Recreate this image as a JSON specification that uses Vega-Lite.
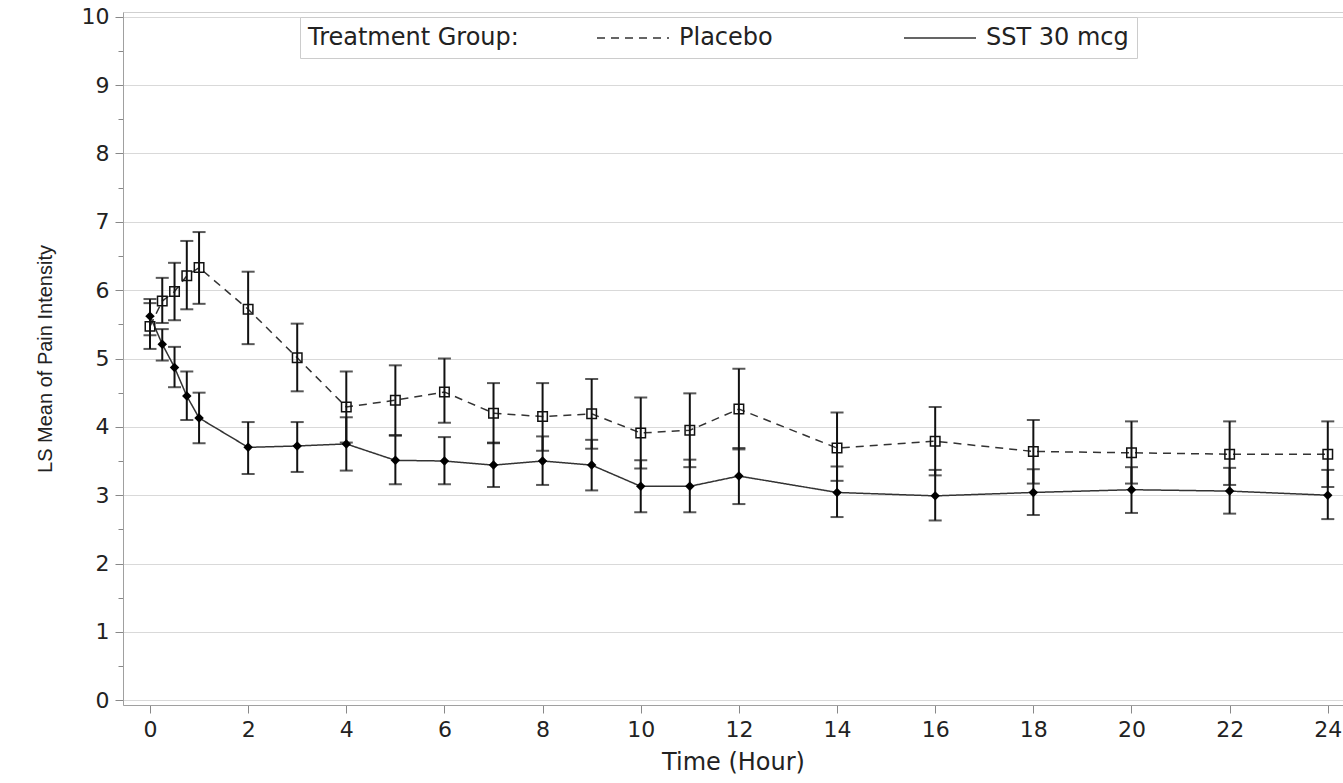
{
  "$schema": "https://vega.github.io/schema/vega-lite/v6.json",
  "autosize": {"type": "none"},
  "width": 1220,
  "height": 693,
  "padding": {"left": 123, "top": 12, "right": 0, "bottom": 78},
  "background": "white",
  "config": {
    "view": {"stroke": "#d0d0d0", "strokeWidth": 1},
    "font": "DejaVu Sans"
  },
  "data": {
    "values": [
      {"t": 0, "group": "Placebo", "mean": 5.47, "lo": 5.14, "hi": 5.81},
      {"t": 0.25, "group": "Placebo", "mean": 5.84, "lo": 5.52, "hi": 6.18},
      {"t": 0.5, "group": "Placebo", "mean": 5.98, "lo": 5.56, "hi": 6.40},
      {"t": 0.75, "group": "Placebo", "mean": 6.21, "lo": 5.72, "hi": 6.72},
      {"t": 1, "group": "Placebo", "mean": 6.33, "lo": 5.80, "hi": 6.85},
      {"t": 2, "group": "Placebo", "mean": 5.72, "lo": 5.21, "hi": 6.27},
      {"t": 3, "group": "Placebo", "mean": 5.01, "lo": 4.52, "hi": 5.51},
      {"t": 4, "group": "Placebo", "mean": 4.29, "lo": 3.77, "hi": 4.81},
      {"t": 5, "group": "Placebo", "mean": 4.39, "lo": 3.88, "hi": 4.90},
      {"t": 6, "group": "Placebo", "mean": 4.51, "lo": 4.06, "hi": 5.00},
      {"t": 7, "group": "Placebo", "mean": 4.20, "lo": 3.76, "hi": 4.64},
      {"t": 8, "group": "Placebo", "mean": 4.15, "lo": 3.65, "hi": 4.64},
      {"t": 9, "group": "Placebo", "mean": 4.19, "lo": 3.68, "hi": 4.70},
      {"t": 10, "group": "Placebo", "mean": 3.91, "lo": 3.39, "hi": 4.43},
      {"t": 11, "group": "Placebo", "mean": 3.95, "lo": 3.41, "hi": 4.49},
      {"t": 12, "group": "Placebo", "mean": 4.26, "lo": 3.67, "hi": 4.85},
      {"t": 14, "group": "Placebo", "mean": 3.69, "lo": 3.21, "hi": 4.21},
      {"t": 16, "group": "Placebo", "mean": 3.79, "lo": 3.29, "hi": 4.29},
      {"t": 18, "group": "Placebo", "mean": 3.64, "lo": 3.17, "hi": 4.10},
      {"t": 20, "group": "Placebo", "mean": 3.62, "lo": 3.17, "hi": 4.08},
      {"t": 22, "group": "Placebo", "mean": 3.60, "lo": 3.15, "hi": 4.08},
      {"t": 24, "group": "Placebo", "mean": 3.60, "lo": 3.12, "hi": 4.08},
      {"t": 0, "group": "SST 30 mcg", "mean": 5.62, "lo": 5.34, "hi": 5.87},
      {"t": 0.25, "group": "SST 30 mcg", "mean": 5.21, "lo": 4.97, "hi": 5.43},
      {"t": 0.5, "group": "SST 30 mcg", "mean": 4.87, "lo": 4.58, "hi": 5.17},
      {"t": 0.75, "group": "SST 30 mcg", "mean": 4.45, "lo": 4.10, "hi": 4.81},
      {"t": 1, "group": "SST 30 mcg", "mean": 4.13, "lo": 3.76, "hi": 4.50},
      {"t": 2, "group": "SST 30 mcg", "mean": 3.70, "lo": 3.31, "hi": 4.07},
      {"t": 3, "group": "SST 30 mcg", "mean": 3.72, "lo": 3.34, "hi": 4.07},
      {"t": 4, "group": "SST 30 mcg", "mean": 3.75, "lo": 3.36, "hi": 4.14},
      {"t": 5, "group": "SST 30 mcg", "mean": 3.51, "lo": 3.16, "hi": 3.87},
      {"t": 6, "group": "SST 30 mcg", "mean": 3.50, "lo": 3.16, "hi": 3.85},
      {"t": 7, "group": "SST 30 mcg", "mean": 3.44, "lo": 3.12, "hi": 3.77},
      {"t": 8, "group": "SST 30 mcg", "mean": 3.50, "lo": 3.15, "hi": 3.86},
      {"t": 9, "group": "SST 30 mcg", "mean": 3.44, "lo": 3.07, "hi": 3.81},
      {"t": 10, "group": "SST 30 mcg", "mean": 3.13, "lo": 2.75, "hi": 3.51},
      {"t": 11, "group": "SST 30 mcg", "mean": 3.13, "lo": 2.75, "hi": 3.52},
      {"t": 12, "group": "SST 30 mcg", "mean": 3.28, "lo": 2.87, "hi": 3.69},
      {"t": 14, "group": "SST 30 mcg", "mean": 3.04, "lo": 2.68, "hi": 3.42},
      {"t": 16, "group": "SST 30 mcg", "mean": 2.99, "lo": 2.63, "hi": 3.37},
      {"t": 18, "group": "SST 30 mcg", "mean": 3.04, "lo": 2.71, "hi": 3.38},
      {"t": 20, "group": "SST 30 mcg", "mean": 3.08, "lo": 2.74, "hi": 3.41},
      {"t": 22, "group": "SST 30 mcg", "mean": 3.06, "lo": 2.73, "hi": 3.40},
      {"t": 24, "group": "SST 30 mcg", "mean": 3.00, "lo": 2.65, "hi": 3.37}
    ]
  },
  "encoding": {
    "x": {
      "field": "t", "type": "quantitative",
      "scale": {"domain": [-0.55, 24.31], "nice": false, "zero": false},
      "axis": {
        "title": "Time (Hour)",
        "values": [0, 2, 4, 6, 8, 10, 12, 14, 16, 18, 20, 22, 24],
        "grid": false,
        "domainColor": "#a0a0a0",
        "tickColor": "#888888",
        "tickSize": 8,
        "labelFont": "DejaVu Sans",
        "labelFontSize": 22,
        "labelColor": "#222222",
        "labelPadding": 6,
        "labelFlush": false,
        "titleFont": "DejaVu Sans",
        "titleFontSize": 24,
        "titleFontWeight": "normal",
        "titleColor": "#222222",
        "titlePadding": 10
      }
    },
    "y": {
      "field": "mean", "type": "quantitative",
      "scale": {"domain": [-0.07, 10.07], "nice": false, "zero": false},
      "axis": {
        "title": "LS Mean of Pain Intensity",
        "values": [0, 0.5, 1, 1.5, 2, 2.5, 3, 3.5, 4, 4.5, 5, 5.5, 6, 6.5, 7, 7.5, 8, 8.5, 9, 9.5, 10],
        "labelExpr": "datum.value % 1 === 0 ? format(datum.value, 'd') : ''",
        "grid": true,
        "gridColor": "#d9d9d9",
        "gridOpacity": {"condition": {"test": "datum.value % 1 !== 0", "value": 0}, "value": 1},
        "tickSize": {"condition": {"test": "datum.value % 1 !== 0", "value": 5}, "value": 8},
        "domainColor": "#a0a0a0",
        "tickColor": "#888888",
        "labelFont": "DejaVu Sans",
        "labelFontSize": 22,
        "labelColor": "#222222",
        "labelPadding": 6,
        "labelFlush": false,
        "titleFont": "Liberation Sans",
        "titleFontSize": 20,
        "titleFontWeight": "normal",
        "titleColor": "#222222",
        "titlePadding": 26
      }
    }
  },
  "layer": [
    {
      "mark": {"type": "line", "color": "#333333", "strokeWidth": 1.5},
      "encoding": {
        "strokeDash": {
          "field": "group", "type": "nominal",
          "scale": {"domain": ["Placebo", "SST 30 mcg"], "range": [[8, 6], [1, 0]]},
          "legend": {
            "title": "Treatment Group:",
            "orient": "none",
            "legendX": 177,
            "legendY": 5,
            "direction": "horizontal",
            "titleOrient": "left",
            "titleFont": "DejaVu Sans",
            "titleFontSize": 24,
            "titleFontWeight": "normal",
            "titleColor": "#222222",
            "titleLimit": 500,
            "titlePadding": 77,
            "titleBaseline": "middle",
            "labelFont": "DejaVu Sans",
            "labelFontSize": 24,
            "labelColor": "#222222",
            "labelOffset": 57,
            "labelLimit": 400,
            "labelExpr": "datum.label === 'SST 30 mcg' ? datum.label + '\u00a0\u00a0\u00a0\u00a0\u00a0' : datum.label",
            "symbolType": "M-1,0H5",
            "symbolSize": 576,
            "symbolStrokeColor": "#333333",
            "symbolStrokeWidth": 1.5,
            "columnPadding": 128,
            "padding": 8,
            "strokeColor": "#cccccc",
            "fillColor": "white",
            "cornerRadius": 0
          }
        }
      }
    },
    {
      "mark": {"type": "rule", "color": "#111111", "strokeWidth": 2},
      "encoding": {
        "y": {"field": "lo", "type": "quantitative"},
        "y2": {"field": "hi"}
      }
    },
    {
      "mark": {"type": "tick", "orient": "horizontal", "color": "#111111", "size": 13, "thickness": 2},
      "encoding": {"y": {"field": "lo", "type": "quantitative"}}
    },
    {
      "mark": {"type": "tick", "orient": "horizontal", "color": "#111111", "size": 13, "thickness": 2},
      "encoding": {"y": {"field": "hi", "type": "quantitative"}}
    },
    {
      "transform": [{"filter": "datum.group === 'Placebo'"}],
      "mark": {"type": "point", "shape": "square", "filled": false, "color": "#111111", "strokeWidth": 1.5, "size": 90, "opacity": 1}
    },
    {
      "transform": [{"filter": "datum.group === 'SST 30 mcg'"}],
      "mark": {"type": "point", "shape": "diamond", "filled": true, "color": "#000000", "size": 90, "opacity": 1}
    }
  ]
}
